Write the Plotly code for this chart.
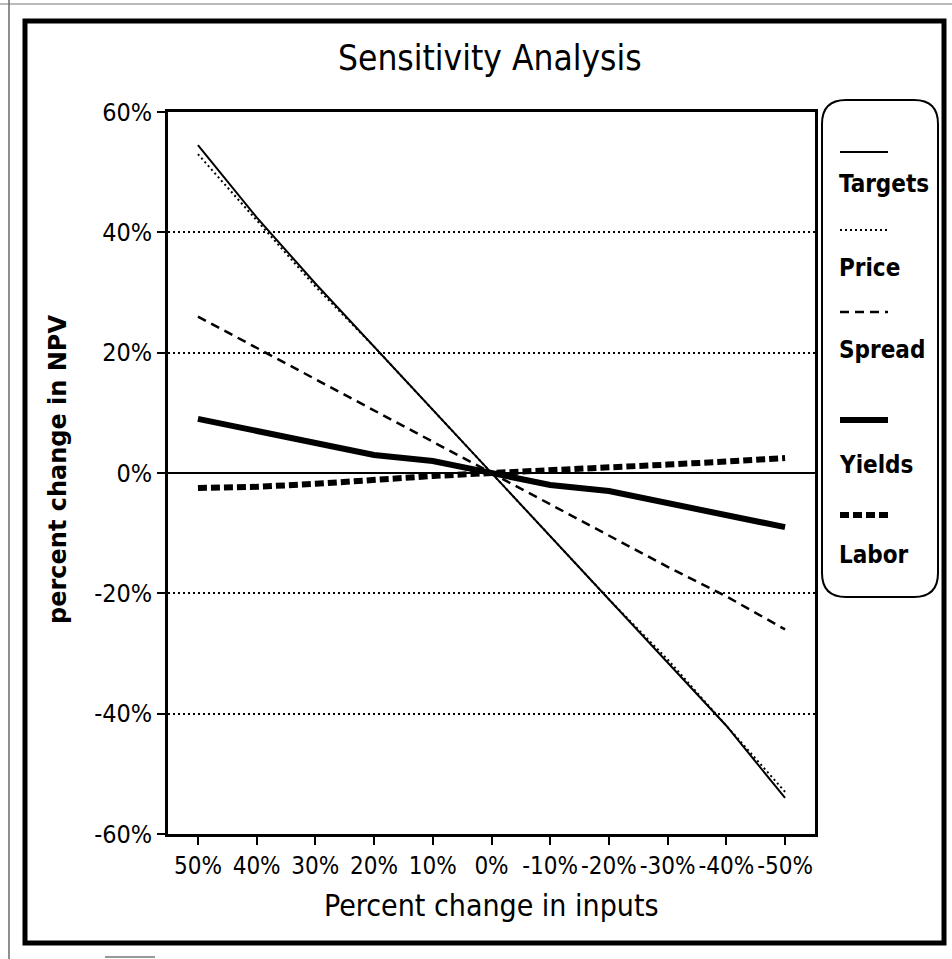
import plotly.graph_objects as go

# ---------------- data ----------------
x_labels = ["50%", "40%", "30%", "20%", "10%", "0%", "-10%", "-20%", "-30%", "-40%", "-50%"]
targets = [54.5, 42.5, 31.5, 21, 10.5, 0, -10.5, -21, -31.5, -42, -54]
price = [53, 42, 31, 21, 10.5, 0, -10.5, -21, -31, -42, -53]
spread = [26, 20.8, 15.6, 10.4, 5.2, 0, -5.2, -10.4, -15.6, -20.5, -26]
yields = [9, 7, 5, 3, 2, 0, -2, -3, -5, -7, -9]
labor = [-2.5, -2.3, -1.8, -1.1, -0.5, 0, 0.4, 0.9, 1.4, 1.9, 2.5]
y_ticks = [-60, -40, -20, 0, 20, 40, 60]
y_tick_text = ["-60%", "-40%", "-20%", "0%", "20%", "40%", "60%"]
series_names = ["Targets", "Price", "Spread", "Yields", "Labor"]

# ---------------- geometry ----------------
W, H = 952, 959
L, R, T, B = 168, 952 - 815, 112, 959 - 834
PW, PH = W - L - R, H - T - B

def px(x):
    return (x - L) / PW

def py(y):
    return (H - B - y) / PH

NARROW = "DejaVu Sans Condensed, Liberation Sans Narrow, Arial Narrow, sans-serif"

styles = {
    "Targets": dict(width=2, dash="solid"),
    "Price": dict(width=2, dash="2px,3px"),
    "Spread": dict(width=2.5, dash="9px,6px"),
    "Yields": dict(width=6, dash="solid"),
    "Labor": dict(width=6, dash="9px,4px"),
}
data = {"Targets": targets, "Price": price, "Spread": spread, "Yields": yields, "Labor": labor}

fig = go.Figure()
for name in series_names:
    st = styles[name]
    fig.add_trace(go.Scatter(x=x_labels, y=data[name], mode="lines", name=name,
                             line=dict(color="black", width=st["width"], dash=st["dash"]),
                             showlegend=False))

shapes = []
# outer frame
shapes.append(dict(type="rect", xref="paper", yref="paper", x0=px(25), x1=px(944), y0=py(21), y1=py(943),
                   line=dict(color="black", width=5), layer="above"))
shapes.append(dict(type="line", xref="paper", yref="paper", x0=px(9), x1=px(9), y0=py(0), y1=py(959),
                   line=dict(color="#444", width=1.2)))
shapes.append(dict(type="line", xref="paper", yref="paper", x0=px(0), x1=px(952), y0=py(4), y1=py(4),
                   line=dict(color="#777", width=1)))
shapes.append(dict(type="line", xref="paper", yref="paper", x0=px(105), x1=px(155), y0=py(957), y1=py(957),
                   line=dict(color="#999", width=2)))

# legend rounded box
bx0, bx1, by0, by1, rr = 822, 938, 100, 597, 24
pts = [
    ("M", [(bx0 + rr, by0)]),
    ("L", [(bx1 - rr, by0)]),
    ("Q", [(bx1, by0), (bx1, by0 + rr)]),
    ("L", [(bx1, by1 - rr)]),
    ("Q", [(bx1, by1), (bx1 - rr, by1)]),
    ("L", [(bx0 + rr, by1)]),
    ("Q", [(bx0, by1), (bx0, by1 - rr)]),
    ("L", [(bx0, by0 + rr)]),
    ("Q", [(bx0, by0), (bx0 + rr, by0)]),
]
path = ""
for cmd, pl in pts:
    path += cmd + " " + " ".join(f"{px(a):.5f},{py(b):.5f}" for a, b in pl) + " "
path += "Z"
shapes.append(dict(type="path", xref="paper", yref="paper", path=path,
                   line=dict(color="black", width=2), fillcolor="white"))

leg_line_y = [152, 230, 312, 420, 515]
leg_text_y = [184, 268, 350, 465, 555]
annotations = []
for name, ly, ty in zip(series_names, leg_line_y, leg_text_y):
    st = styles[name]
    shapes.append(dict(type="line", xref="paper", yref="paper", x0=px(840), x1=px(888), y0=py(ly), y1=py(ly),
                       line=dict(color="black", width=st["width"], dash=st["dash"])))
    annotations.append(dict(xref="paper", yref="paper", x=px(837), y=py(ty), xanchor="left", yanchor="middle",
                            text=f"<b>{name}</b>", showarrow=False,
                            font=dict(family=NARROW, size=24, color="black")))

annotations.append(dict(xref="paper", yref="paper", x=px(490), y=py(58), xanchor="center", yanchor="middle",
                        text="Sensitivity Analysis", showarrow=False,
                        font=dict(family=NARROW, size=35, color="black")))
annotations.append(dict(xref="paper", yref="paper", x=px(491), y=py(905), xanchor="center", yanchor="middle",
                        text="Percent change in inputs", showarrow=False,
                        font=dict(family=NARROW, size=30, color="black")))
annotations.append(dict(xref="paper", yref="paper", x=px(58), y=py(470), xanchor="center", yanchor="middle",
                        text="<b>percent change in NPV</b>", textangle=-90, showarrow=False,
                        font=dict(family="DejaVu Sans, sans-serif", size=24, color="black")))

fig.update_layout(
    width=W, height=H,
    margin=dict(l=L, r=R, t=T, b=B, pad=0),
    paper_bgcolor="white", plot_bgcolor="white",
    shapes=shapes, annotations=annotations,
    showlegend=False,
)
fig.update_xaxes(type="category", range=[-0.51, 10.51], showgrid=False, zeroline=False,
                 showline=True, mirror=True, linecolor="black", linewidth=2.5,
                 ticks="outside", ticklen=8, tickwidth=2, tickcolor="black", tickangle=0,
                 tickfont=dict(family=NARROW, size=24, color="black"))
fig.update_yaxes(range=[-60, 60], tickmode="array", tickvals=y_ticks, ticktext=y_tick_text,
                 showgrid=True, gridcolor="black", gridwidth=2, griddash="2px,3px",
                 zeroline=True, zerolinecolor="black", zerolinewidth=2,
                 showline=True, mirror=True, linecolor="black", linewidth=2.5,
                 ticks="outside", ticklen=8, tickwidth=2, tickcolor="black",
                 tickfont=dict(family=NARROW, size=25, color="black"))

fig.write_html("out.html", config={"displayModeBar": False},
               post_script="document.body.style.margin='0';")
